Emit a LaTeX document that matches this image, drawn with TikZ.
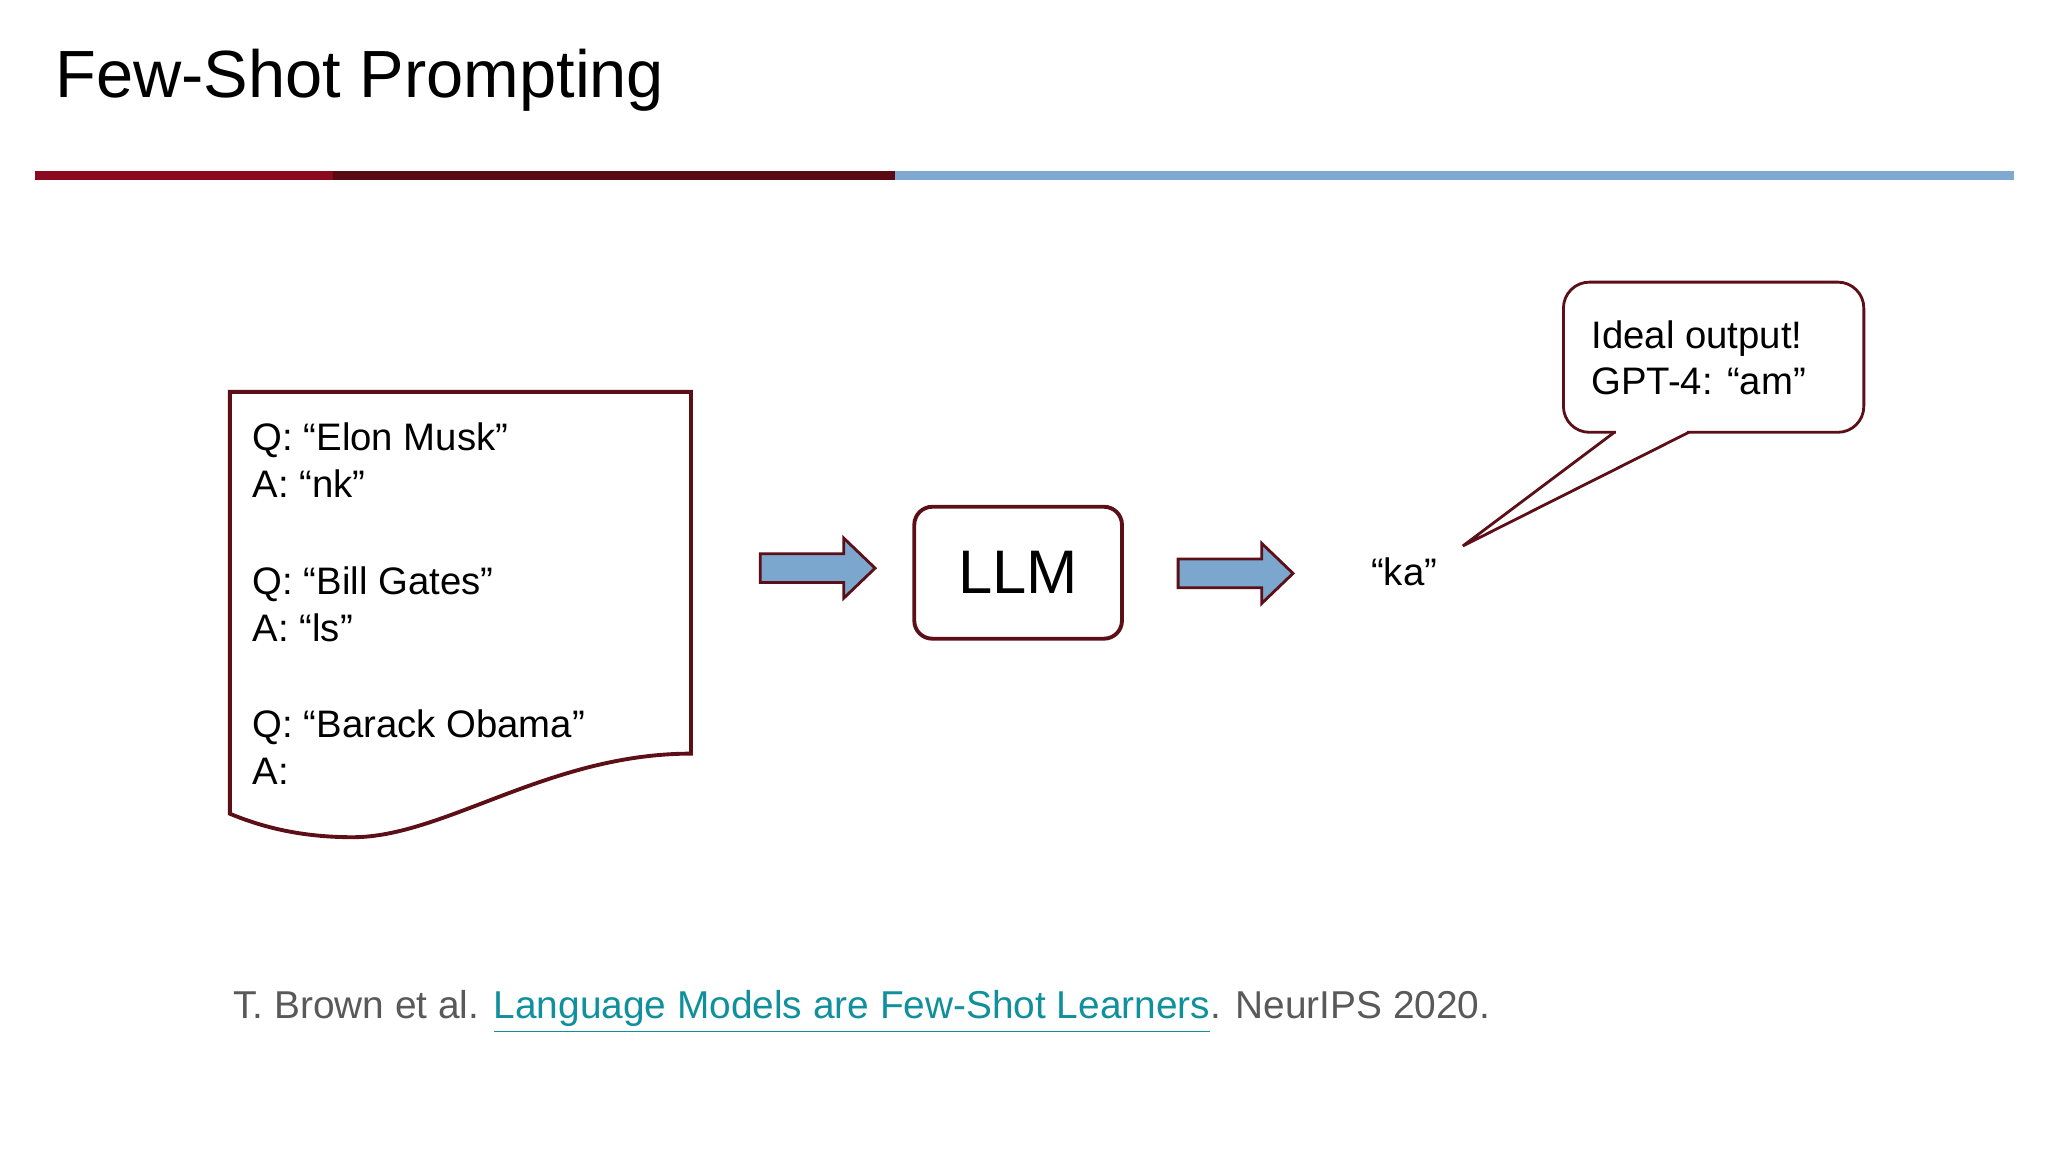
\documentclass[tikz,border=0pt]{standalone}
\usepackage{fontspec}
\setmainfont{Liberation Sans}
\definecolor{barred}{HTML}{8C0A20}
\definecolor{bardark}{HTML}{5A0A12}
\definecolor{barblue}{HTML}{7FA9D0}
\definecolor{edge}{HTML}{5C0F16}
\definecolor{arrowblue}{HTML}{7BA7CF}
\definecolor{cite}{HTML}{595959}
\definecolor{link}{HTML}{10909C}
\begin{document}
\begin{tikzpicture}[x=0.013061cm,y=-0.013061cm,
  body/.style={font=\fontsize{10.9}{13.3}\selectfont,anchor=base west,inner sep=0pt},
  outl/.style={draw=edge,line width=1.1pt},
  thin/.style={draw=edge,line width=0.8pt},
  blockarrow/.style={fill=arrowblue,draw=edge,line width=0.8pt}]
\useasboundingbox (0,0) rectangle (1568,882);
\node[anchor=base west,inner sep=0pt,font=\fontsize{19}{23}\selectfont] (title) at (42,75) {Few-Shot Prompting};
\fill[barred] (27,131) rectangle (255,138);
\fill[bardark] (255,131) rectangle (685,138);
\fill[barblue] (685,131) rectangle (1542,138);
% document
\draw[outl] (176,300) -- (529,300) -- (529,577) .. controls (420,577) and (340,641) .. (270,641) .. controls (230,641) and (200,633) .. (176,623) -- cycle;
\node[body] (q1) at (193,345) {Q: “Elon Musk”};
\node[body] (a1) at (193,381) {A: “nk”};
\node[body] (q2) at (193,455) {Q: “Bill Gates”};
\node[body] (a2) at (193,491) {A: “ls”};
\node[body] (q3) at (193,565) {Q: “Barack Obama”};
\node[body] (a3) at (193,601) {A:};
% arrows
\draw[blockarrow] (582,424) -- (646,424) -- (646,412) -- (670,435) -- (646,458) -- (646,446) -- (582,446) -- cycle;
\draw[blockarrow] (902,428) -- (966,428) -- (966,416) -- (990,439) -- (966,462) -- (966,450) -- (902,450) -- cycle;
% LLM
\node[outl,rounded corners=0.18cm,minimum width=159*0.013061cm,minimum height=101*0.013061cm,font=\fontsize{17.5}{20}\selectfont] (llm) at (779.5,438.5) {LLM};
\node[body,anchor=base] (ka) at (1075,448) {“ka”};
% callout
\node[thin,fill=white,rounded corners=0.26cm,minimum width=230*0.013061cm,minimum height=115*0.013061cm] (bubble) at (1312,273.5) {};
\fill[white] (1237.5,328) rectangle (1291.5,334);
\coordinate (tip) at (1120,418);
\draw[thin,line join=miter] (1236,331) -- (tip) -- (1293,331);
\node[body] (ideal) at (1218,267) {Ideal output!};
\node[body] (gpt) at (1218,302) {GPT-4: “am”};
% citation
\node[body,text=cite,font=\fontsize{11.05}{14}\selectfont] (cit) at (178,780) {T. Brown et al. \textcolor{link}{\underline{Language Models are Few-Shot Learners}}. NeurIPS 2020.};
\end{tikzpicture}
\end{document}
